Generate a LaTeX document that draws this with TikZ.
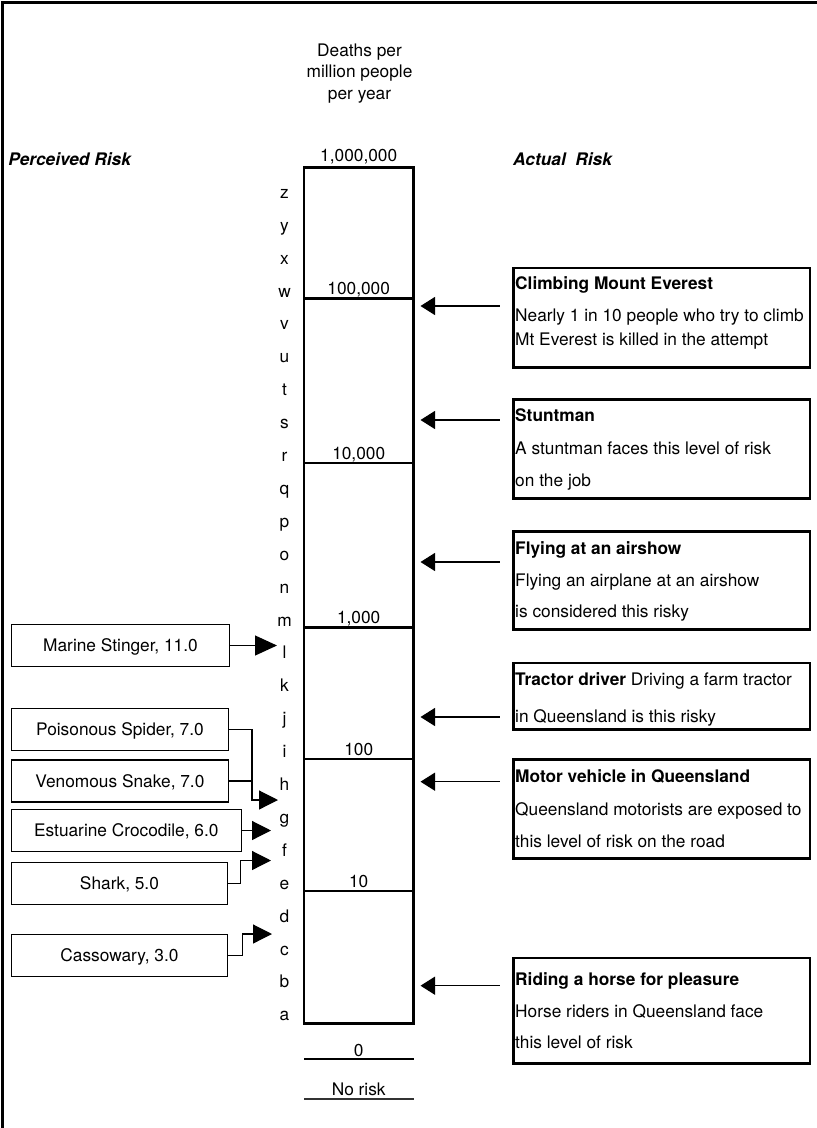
\documentclass[tikz,border=0pt]{standalone}
\usepackage{fontspec}
\setmainfont{TeX Gyre Heros}
\usetikzlibrary{arrows.meta}
\begin{document}
\begin{tikzpicture}[x=1pt,y=-1pt,
  every node/.style={font=\fontsize{17.3}{20}\selectfont, inner sep=0pt},
  heavy/.style={line width=2.5pt},
  leftbox/.style={draw, line width=1.2pt, anchor=west, minimum height=42pt,
                  text height=12.4pt, text depth=0pt},
  riskbox/.style={draw, line width=2.5pt, anchor=north west, minimum width=296.5pt},
  rarrow/.style={line width=1.2pt, -{Triangle[length=14.5pt, width=18pt]}},
  larrow/.style={line width=1.2pt, -{Triangle[length=19pt, width=19pt]}},
  bigarrow/.style={line width=1.2pt, -{Triangle[length=22pt, width=20pt]}},
  txt/.style={anchor=base west},
  lbl/.style={anchor=base}]
\useasboundingbox (0,0) rectangle (817,1128);

% frame (top and left edges)
\coordinate (frameBL) at (2.5,1128);
\coordinate (frameTL) at (2.5,2.5);
\coordinate (frameTR) at (817,2.5);
\draw[heavy] (frameBL) -- (frameTL) -- (frameTR);

% headings
\node[lbl] (h1) at (359.5,56) {Deaths per};
\node[lbl] (h2) at (359.5,77.5) {million people};
\node[lbl] (h3) at (359.5,99) {per year};
\node[txt] (perceived) at (8.3,165) {\bfseries\itshape Perceived Risk};
\node[txt] (actual) at (513,165) {\bfseries\itshape Actual\ \ Risk};

% the scale column
\coordinate (colTL) at (304,167.3);
\coordinate (colBR) at (413.3,1023.3);
\draw[heavy] (colTL) rectangle (colBR);
\foreach \name/\yy in {d100k/298.5, d10k/463, d1k/627.3, d100/759, d10/891} {
  \coordinate (\name-w) at (304,\yy);
  \coordinate (\name-e) at (413.3,\yy);
  \draw[heavy] (\name-w) -- (\name-e);
}
\node[lbl] (v1m)  at (358.7,161)   {1,000,000};
\node[lbl] (v100k) at (358.7,294.5) {100,000};
\node[lbl] (v10k) at (358.7,459.3) {10,000};
\node[lbl] (v1k)  at (358.7,623.5) {1,000};
\node[lbl] (v100) at (358.7,755.5) {100};
\node[lbl] (v10)  at (358.7,887.3) {10};

% zero and no-risk marks
\node[lbl] (vzero) at (358.7,1056) {0};
\coordinate (zeroW) at (304,1059);
\coordinate (zeroE) at (414,1059);
\draw[heavy] (zeroW) -- (zeroE);
\node[lbl] (vnone) at (358.7,1095) {No risk};
\coordinate (noneW) at (304,1099);
\coordinate (noneE) at (414,1099);
\draw[line width=1.2pt, black!80] (noneW) -- (noneE);

% letter ladder
\foreach \l [count=\k from 0] in {z,y,x,w,v,u,t,s,r,q,p,o,n,m,l,k,j,i,h,g,f,e,d,c,b,a}
  \node[lbl] (let-\l) at (284.5,{198.3+32.9*\k}) {\l};

% perceived risk boxes
\node[leftbox, minimum width=218.3pt] (marine) at (10.7,645.5) {Marine Stinger, 11.0};
\node[leftbox, minimum width=217.3pt] (spider) at (10.7,729.5) {Poisonous Spider, 7.0};
\node[leftbox, minimum width=217.3pt] (snake) at (10.7,781) {Venomous Snake, 7.0};
\node[leftbox, minimum width=230pt] (croc) at (10.7,830.5) {Estuarine Crocodile, 6.0};
\node[leftbox, minimum width=216.3pt] (shark) at (10.7,883.5) {Shark, 5.0};
\node[leftbox, minimum width=216.3pt] (cass) at (10.7,955.5) {Cassowary, 3.0};

\coordinate (marineTip) at (277,645.5);
\draw[bigarrow] (marine.east) -- (marineTip);

\coordinate (pairJoin) at (252,800);
\coordinate (pairTip) at (278,800);
\draw[larrow] (spider.east) -| (pairJoin) -- (pairTip);
\draw[line width=1.2pt] (snake.east) -- (snake.east -| pairJoin);

\coordinate (crocTip) at (271,830.5);
\draw[larrow] (croc.east) -- (crocTip);

\coordinate (sharkKnee) at (240.7,860.5);
\coordinate (sharkTip) at (271,860.5);
\draw[larrow] (shark.east) -| (sharkKnee) -- (sharkTip);

\coordinate (cassKnee) at (242.7,934);
\coordinate (cassTip) at (272,934);
\draw[larrow] (cass.east) -| (cassKnee) -- (cassTip);

% actual risk boxes
\node[riskbox, minimum height=99.3pt] (everest) at (512.3,266.7) {};
\node[txt] (everest-1) at (515,289.3) {\bfseries Climbing Mount Everest};
\node[txt] (everest-2) at (515,321.3) {Nearly 1 in 10 people who try to climb};
\node[txt] (everest-3) at (515,345.7) {Mt Everest is killed in the attempt};

\node[riskbox, minimum height=99pt] (stunt) at (512.3,398.3) {};
\node[txt] (stunt-1) at (515,421) {\bfseries Stuntman};
\node[txt] (stunt-2) at (515,454.3) {A stuntman faces this level of risk};
\node[txt] (stunt-3) at (515,486) {on the job};

\node[riskbox, minimum height=98.3pt] (air) at (512.3,530) {};
\node[txt] (air-1) at (515,554.3) {\bfseries Flying at an airshow};
\node[txt] (air-2) at (515,586) {Flying an airplane at an airshow};
\node[txt] (air-3) at (515,617.7) {is considered this risky};

\node[riskbox, minimum height=66.6pt] (tractor) at (512.3,661.7) {};
\node[txt] (tractor-1) at (515,685.3) {\textbf{Tractor driver} Driving a farm tractor};
\node[txt] (tractor-2) at (515,722) {in Queensland is this risky};

\node[riskbox, minimum height=98.7pt] (motor) at (512.3,758.3) {};
\node[txt] (motor-1) at (515,782) {\bfseries Motor vehicle in Queensland};
\node[txt] (motor-2) at (515,815) {Queensland motorists are exposed to};
\node[txt] (motor-3) at (515,847) {this level of risk on the road};

\node[riskbox, minimum height=105.6pt] (horse) at (512.3,956.7) {};
\node[txt] (horse-1) at (515,985.3) {\bfseries Riding a horse for pleasure};
\node[txt] (horse-2) at (515,1017) {Horse riders in Queensland face};
\node[txt] (horse-3) at (515,1048.7) {this level of risk};

% pointers to the scale
\foreach \name/\yy in {everest/306, stunt/420, air/562, tractor/717, motor/781.7, horse/985.7} {
  \coordinate (\name-from) at (499.5,\yy);
  \coordinate (\name-to) at (420.5,\yy);
  \draw[rarrow] (\name-from) -- (\name-to);
}
\end{tikzpicture}
\end{document}
